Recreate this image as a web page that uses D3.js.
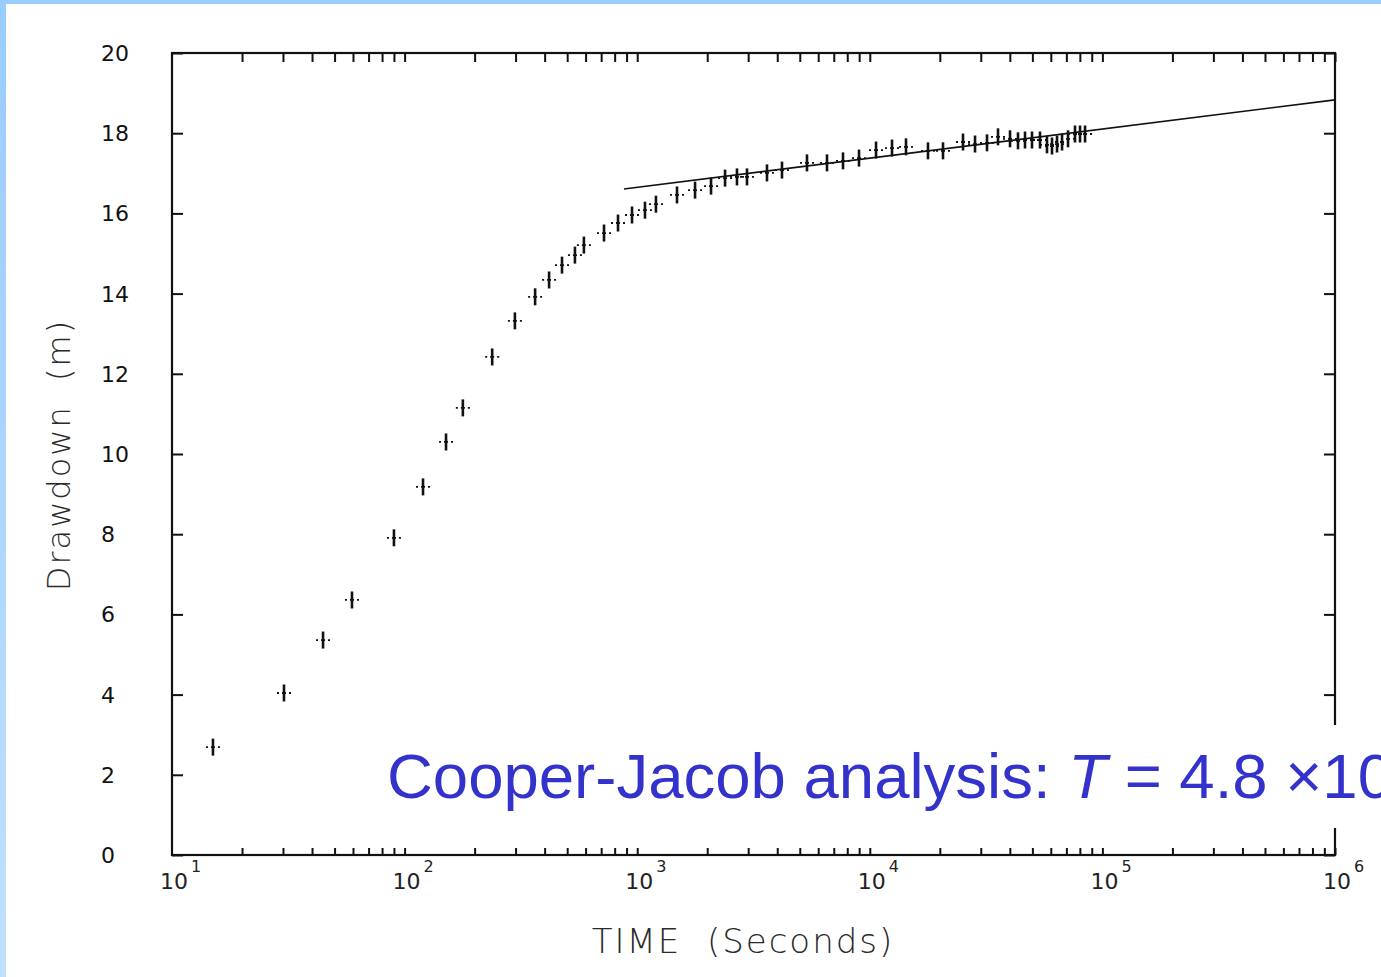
<!DOCTYPE html>
<html>
<head>
<meta charset="utf-8">
<script src="https://cdn.jsdelivr.net/npm/d3@7"></script>
<style>
html,body{margin:0;padding:0;background:#fff;overflow:hidden;}
svg{display:block;}
.pre{white-space:pre;}
</style>
</head>
<body>
<svg id="chart" width="1381" height="977"></svg>
<script>
// ---- data ----
const timeSec = [15.0, 30.3, 44.6, 59.4, 90, 120, 150.7, 178, 238, 298, 364, 418, 475, 540, 590,
  720, 827, 950, 1080, 1204, 1483, 1773, 2077, 2386, 2685, 2965, 3614, 4193, 5370, 6546, 7670, 8987,
  10636, 12460, 14310, 17790, 20640, 25160, 28340, 31910, 35580, 40070, 43370, 46480, 49810, 53920,
  57780, 60720, 63820, 67060, 71150, 76250, 80130, 84210];
const drawdown = [2.69, 4.04, 5.36, 6.36, 7.91, 9.18, 10.30, 11.15, 12.42, 13.32, 13.92, 14.34, 14.71, 14.96, 15.21,
  15.51, 15.76, 15.96, 16.08, 16.23, 16.46, 16.58, 16.68, 16.88, 16.91, 16.91, 17.01, 17.08, 17.26, 17.26, 17.31, 17.38,
  17.58, 17.63, 17.66, 17.56, 17.56, 17.78, 17.73, 17.76, 17.91, 17.86, 17.81, 17.83, 17.83, 17.83,
  17.71, 17.68, 17.73, 17.78, 17.86, 17.98, 17.98, 17.98];
const fitTime = [877, 1e6];
const fitDrawdown = [16.61, 18.83];
const yTicks = [0, 2, 4, 6, 8, 10, 12, 14, 16, 18, 20];
const xDecades = [1, 2, 3, 4, 5, 6];
const xMinorMult = [2, 3, 4, 5, 6, 7, 8, 9, 10];
const xTitle = "TIME  (Seconds)";
const yTitle = "Drawdown  (m)";
const noteText = "Cooper-Jacob analysis: ";
const noteSymbol = "T";
const noteValue = " = 4.8 ×10";

// ---- drawing ----
const svg = d3.select("#chart");
const L = 172, R = 1335, T = 53, B = 855;
const x = d3.scaleLog().domain([10, 1e6]).range([L, R]);
const y = d3.scaleLinear().domain([0, 20]).range([B, T]);

// page frame (light blue border)
const defs = svg.append("defs");
const g1 = defs.append("linearGradient").attr("id", "lb").attr("x1", 0).attr("y1", 0).attr("x2", 0).attr("y2", 1);
g1.append("stop").attr("offset", "0%").attr("stop-color", "#99ccff");
g1.append("stop").attr("offset", "100%").attr("stop-color", "#c0e0ff");
svg.append("rect").attr("x", 0).attr("y", 0).attr("width", 1381).attr("height", 977).attr("fill", "#fff");
svg.append("rect").attr("x", 0).attr("y", 0).attr("width", 1381).attr("height", 4).attr("fill", "#99ccff");
svg.append("rect").attr("x", 0).attr("y", 0).attr("width", 6).attr("height", 977).attr("fill", "url(#lb)");

// minor tick values on x
const xTickVals = [];
for (let e = 1; e < 6; e++) xMinorMult.forEach(m => xTickVals.push(m * Math.pow(10, e)));

const axisStyle = g => {
  g.select(".domain").remove();
  g.selectAll(".tick line").attr("stroke", "#111").attr("stroke-width", 2);
  g.selectAll(".tick text").remove();
};
svg.append("g").attr("transform", `translate(0,${T})`)
  .call(d3.axisTop(x).tickValues(xTickVals).tickSizeInner(-9).tickSizeOuter(0).tickFormat(""))
  .call(axisStyle);
svg.append("g").attr("transform", `translate(0,${B})`)
  .call(d3.axisBottom(x).tickValues(xTickVals).tickSizeInner(-7).tickSizeOuter(0).tickFormat(""))
  .call(axisStyle);
svg.append("g").attr("transform", `translate(${L},0)`)
  .call(d3.axisLeft(y).tickValues(yTicks).tickSizeInner(-11).tickSizeOuter(0).tickFormat(""))
  .call(axisStyle);
svg.append("g").attr("transform", `translate(${R},0)`)
  .call(d3.axisRight(y).tickValues(yTicks).tickSizeInner(-11).tickSizeOuter(0).tickFormat(""))
  .call(axisStyle);

// frame
svg.append("rect").attr("x", L).attr("y", T).attr("width", R - L).attr("height", B - T)
  .attr("fill", "none").attr("stroke", "#111").attr("stroke-width", 2.2);

// y tick labels
svg.append("g").selectAll("text").data(yTicks).join("text")
  .attr("x", 101).attr("y", d => y(d)).attr("dy", "0.36em")
  .attr("font-family", "DejaVu Sans").attr("font-size", 22).attr("fill", "#111")
  .text(d => d);

// x tick labels 10^n
const xl = svg.append("g").selectAll("g").data(xDecades).join("g")
  .attr("transform", d => `translate(${x(Math.pow(10, d))},0)`);
xl.append("text").attr("x", 2).attr("y", 889).attr("text-anchor", "middle")
  .attr("font-family", "DejaVu Sans").attr("font-size", 22).attr("fill", "#222").text("10");
xl.append("text").attr("x", 19).attr("y", 872)
  .attr("font-family", "DejaVu Sans").attr("font-size", 16).attr("fill", "#222").text(d => d);

// axis titles
svg.append("text").attr("class", "pre").attr("x", 743).attr("y", 953).attr("text-anchor", "middle")
  .attr("font-family", "DejaVu Sans").attr("font-weight", 200).attr("font-size", 34)
  .attr("letter-spacing", 2).attr("fill", "#2a2a2a").text(xTitle);
svg.append("text").attr("class", "pre").attr("transform", "translate(70,455) rotate(-90)").attr("text-anchor", "middle")
  .attr("font-family", "DejaVu Sans").attr("font-weight", 200).attr("font-size", 32)
  .attr("letter-spacing", 2).attr("fill", "#2a2a2a").text(yTitle);

// fitted straight line
svg.append("line")
  .attr("x1", x(fitTime[0])).attr("y1", y(fitDrawdown[0]))
  .attr("x2", x(fitTime[1])).attr("y2", y(fitDrawdown[1]))
  .attr("stroke", "#111").attr("stroke-width", 1.6);

// data markers (+)
const pts = timeSec.map((t, i) => ({ t, s: drawdown[i] }));
const mk = svg.append("g").selectAll("g").data(pts).join("g")
  .attr("transform", d => `translate(${x(d.t)},${y(d.s)})`);
mk.append("line").attr("x1", -7).attr("x2", 7).attr("y1", 0).attr("y2", 0)
  .attr("stroke", "#111").attr("stroke-width", 1.8).attr("stroke-dasharray", "2,3,4,3,2");
mk.append("line").attr("x1", 0).attr("x2", 0).attr("y1", -8.5).attr("y2", 8.5)
  .attr("stroke", "#111").attr("stroke-width", 2.6);

// annotation with white backing
svg.append("rect").attr("x", 380).attr("y", 725).attr("width", 1010).attr("height", 103).attr("fill", "#fff");
const note = svg.append("text").attr("x", 387).attr("y", 798)
  .attr("font-family", "Liberation Sans, Arial, sans-serif").attr("font-size", 63.5).attr("fill", "#3333cc");
note.append("tspan").text(noteText);
note.append("tspan").attr("font-style", "italic").text(noteSymbol);
note.append("tspan").text(noteValue);
</script>
</body>
</html>
